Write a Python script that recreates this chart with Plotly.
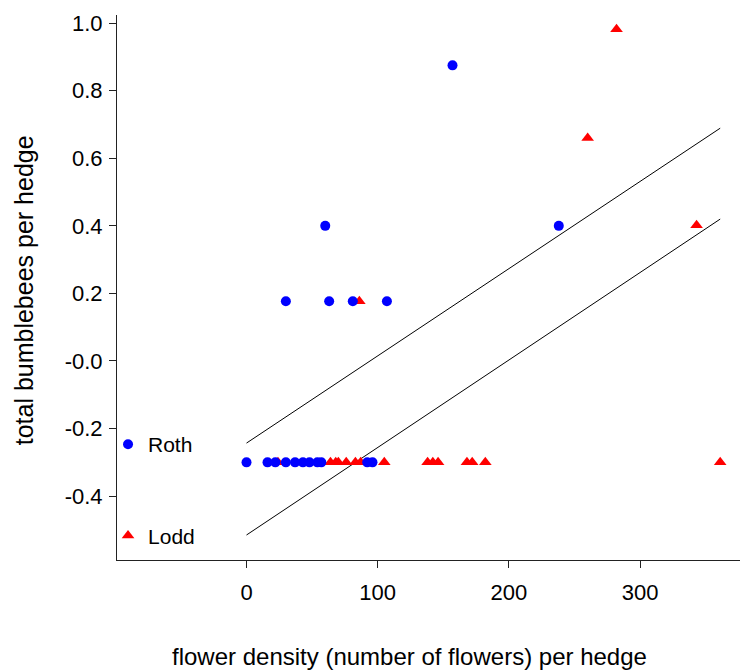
import plotly.graph_objects as go

# Roth hedges: flower density vs standardised bumblebee count
roth_x = [0, 16, 22, 30, 37, 43, 48, 54, 57, 92, 96,
          30, 63, 81, 107, 60, 238, 157]
roth_y = [-0.3, -0.3, -0.3, -0.3, -0.3, -0.3, -0.3, -0.3, -0.3, -0.3, -0.3,
          0.177, 0.177, 0.177, 0.177, 0.4, 0.4, 0.875]

# Lodd hedges
lodd_x = [24, 64, 68, 70, 76, 83, 87, 105, 138, 142, 146, 168, 172, 182, 361,
          86, 343, 260, 282]
lodd_y = [-0.3] * 15 + [0.177, 0.402, 0.66, 0.982]

# fitted lines (common slope, separate intercepts)
fit_x = [0, 361]
roth_fit = [-0.243, 0.689]
lodd_fit = [-0.515, 0.42]

x_ticks = [0, 100, 200, 300]
y_ticks = [-0.4, -0.2, 0.0, 0.2, 0.4, 0.6, 0.8, 1.0]
y_tick_text = ["-0.4", "-0.2", "-0.0", "0.2", "0.4", "0.6", "0.8", "1.0"]

FONT = "Liberation Sans, Arial, sans-serif"

fig = go.Figure()

fig.add_trace(go.Scatter(x=fit_x, y=roth_fit, mode="lines",
                         line=dict(color="black", width=1), showlegend=False,
                         hoverinfo="skip"))
fig.add_trace(go.Scatter(x=fit_x, y=lodd_fit, mode="lines",
                         line=dict(color="black", width=1), showlegend=False,
                         hoverinfo="skip"))

fig.add_trace(go.Scatter(x=lodd_x, y=lodd_y, mode="markers", name="Lodd",
                         legendgroup="b", legendrank=2,
                         marker=dict(symbol="triangle-up", size=11, color="#ff0000",
                                     line=dict(width=0))))
fig.add_trace(go.Scatter(x=roth_x, y=roth_y, mode="markers", name="Roth",
                         legendgroup="a", legendrank=1,
                         marker=dict(symbol="circle", size=10, color="#0000ff",
                                     line=dict(width=0))))

fig.update_layout(
    width=740, height=672,
    margin=dict(l=117, r=0, t=15, b=112),
    paper_bgcolor="white", plot_bgcolor="white",
    font=dict(family=FONT, size=22, color="black"),
    showlegend=True,
    legend=dict(x=-0.0144, y=0.2495, xanchor="left", yanchor="top",
                bgcolor="rgba(0,0,0,0)", traceorder="grouped",
                tracegroupgap=61, font=dict(size=21), itemwidth=30),
    xaxis=dict(range=[-98.7, 376.1], tickvals=x_ticks, ticks="outside",
               ticklen=7, tickcolor="#222", showline=True, linecolor="#222",
               linewidth=1, showgrid=False, zeroline=False,
               ticklabelstandoff=6, tickfont=dict(size=22)),
    yaxis=dict(range=[-0.589, 1.024], tickvals=y_ticks, ticktext=y_tick_text,
               ticks="outside", ticklen=7, tickcolor="#222", showline=True,
               linecolor="#222", linewidth=1, showgrid=False, zeroline=False,
               ticklabelstandoff=2, tickfont=dict(size=22)),
    annotations=[
        dict(text="flower density (number of flowers) per hedge",
             xref="paper", yref="paper", x=0.470, y=-0.177,
             xanchor="center", yanchor="middle", showarrow=False,
             font=dict(size=24)),
        dict(text="total bumblebees per hedge", textangle=-90,
             xref="paper", yref="paper", x=-0.150, y=0.494,
             xanchor="center", yanchor="middle", showarrow=False,
             font=dict(size=25)),
    ],
)

fig.write_html("out.html")
